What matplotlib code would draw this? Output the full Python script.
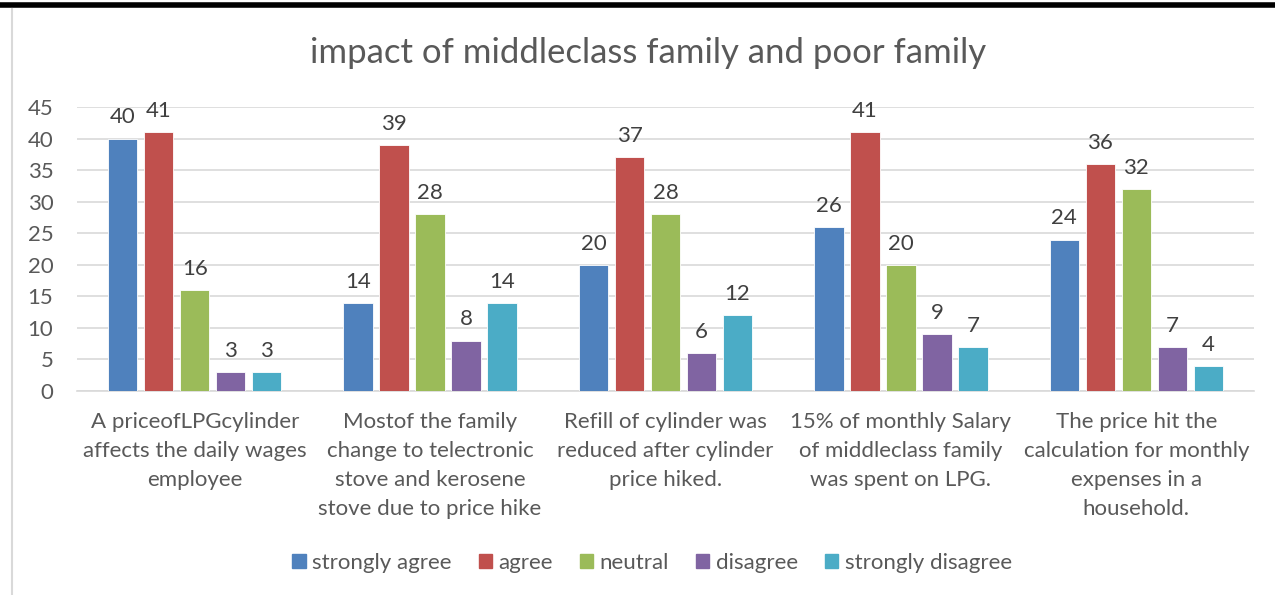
import matplotlib
matplotlib.use("Agg")
import matplotlib.pyplot as plt
import numpy as np
from matplotlib.lines import Line2D

categories = [
    "A priceofLPGcylinder\naffects the daily wages\nemployee",
    "Mostof the family\nchange to telectronic\nstove and kerosene\nstove due to price hike",
    "Refill of cylinder was\nreduced after cylinder\nprice hiked.",
    "15% of monthly Salary\nof middleclass family\nwas spent on LPG.",
    "The price hit the\ncalculation for monthly\nexpenses in a\nhousehold.",
]
series_names = ["strongly agree", "agree", "neutral", "disagree", "strongly disagree"]
strongly_agree = [40, 14, 20, 26, 24]
agree = [41, 39, 37, 41, 36]
neutral = [16, 28, 28, 20, 32]
disagree = [3, 8, 6, 9, 7]
strongly_disagree = [3, 14, 12, 7, 4]
series_values = [strongly_agree, agree, neutral, disagree, strongly_disagree]
colors = ["#4F81BD", "#C0504D", "#9BBB59", "#8064A2", "#4BACC6"]
yticks = [0, 5, 10, 15, 20, 25, 30, 35, 40, 45]

plt.rcParams['font.family'] = ['Lato', 'DejaVu Sans']
txt = "#595959"
fs = 16

fig = plt.figure(figsize=(12.75, 5.95), dpi=100)
ax = fig.add_axes([77/1275, 1-391/595, (1254-77)/1275, (391-107)/595])

x = np.arange(len(categories))
pitch = 0.153
width = 0.125
for i, (name, vals, c) in enumerate(zip(series_names, series_values, colors)):
    pos = x + (i - 2) * pitch
    ax.bar(pos, vals, width, color=c, label=name, zorder=3,
           edgecolor="white", linewidth=0.6)
    for p, v in zip(pos, vals):
        ax.annotate(str(v), (p, v), xytext=(0, 8), textcoords="offset points",
                    ha="center", va="bottom", fontsize=fs, color="#404040")

ax.set_xlim(-0.5, len(categories) - 0.5)
ax.set_ylim(0, 45)
ax.set_yticks(yticks)
ax.set_yticklabels([str(t) for t in yticks], fontsize=fs, color=txt)
ax.set_xticks(x)
ax.set_xticklabels(categories, fontsize=fs, color=txt, linespacing=1.57, va="top")
ax.tick_params(axis="both", length=0)
ax.tick_params(axis="y", pad=17)
ax.tick_params(axis="x", pad=15)
ax.grid(axis="y", color="#D9D9D9", linewidth=1.2, zorder=0)
for s in ["top", "right", "left"]:
    ax.spines[s].set_visible(False)
ax.spines["bottom"].set_color("#D9D9D9")
ax.spines["bottom"].set_linewidth(1.2)

fig.text(648/1275, 1-53/595, "impact of middleclass family and poor family",
         ha="center", va="center", fontsize=25, color=txt)

handles = [plt.Rectangle((0, 0), 1, 1, color=c) for c in colors]
fig.legend(handles, series_names, loc="center", bbox_to_anchor=(652/1275, 1-563/595),
           ncol=5, frameon=False, fontsize=fs, labelcolor=txt,
           handlelength=0.6, handleheight=0.6, handletextpad=0.3, columnspacing=1.2)

# document framing: top black rule and left light border
fig.add_artist(Line2D([0, 1], [1-5/595, 1-5/595], color="black", linewidth=4,
                      transform=fig.transFigure))
fig.add_artist(Line2D([12/1275, 12/1275], [0, 1-9/595], color="#D9D9D9", linewidth=1.5,
                      transform=fig.transFigure))

fig.savefig("out.png", dpi=100)
